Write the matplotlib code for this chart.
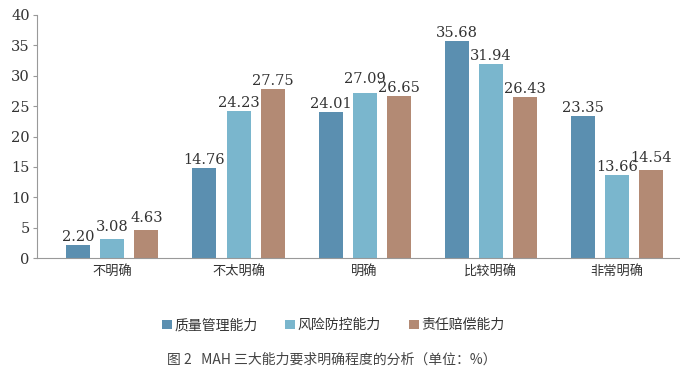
import numpy as np
import matplotlib
matplotlib.use('Agg')
import matplotlib.pyplot as plt

plt.rcParams['font.family'] = ['Noto Sans CJK SC', 'DejaVu Sans']

categories = ['不明确', '不太明确', '明确', '比较明确', '非常明确']
series_names = ['质量管理能力', '风险防控能力', '责任赔偿能力']
quality = [2.20, 14.76, 24.01, 35.68, 23.35]
risk = [3.08, 24.23, 27.09, 31.94, 13.66]
liability = [4.63, 27.75, 26.65, 26.43, 14.54]
colors = ['#5b8fb0', '#7ab6cd', '#b38a74']

fig = plt.figure(figsize=(6.8, 3.73), dpi=100)
ax = fig.add_axes([0.054, 0.308, 0.946, 0.652])

x = np.arange(len(categories))
step = 0.27
width = 0.19
all_vals = [quality, risk, liability]
handles = []
for i, vals in enumerate(all_vals):
    rects = ax.bar(x + (i - 1) * step, vals, width, color=colors[i], label=series_names[i])
    handles.append(rects)

# value labels; when two neighbours are too close, the taller bar's label goes up
gap = 1.5
for j in range(len(categories)):
    ys = [vals[j] + 0.2 for vals in all_vals]
    for i in range(1, len(ys)):
        if abs(ys[i] - ys[i - 1]) < gap:
            if all_vals[i][j] >= all_vals[i - 1][j]:
                ys[i] = ys[i - 1] + gap
            else:
                ys[i - 1] = ys[i] + gap
    for i, vals in enumerate(all_vals):
        ax.text(x[j] + (i - 1) * step, ys[i], '%.2f' % vals[j],
                ha='center', va='bottom', fontsize=10.5, family='DejaVu Serif', color='#333333')

ax.set_xlim(-0.6, 4.5)
ax.set_ylim(0, 40)
ax.set_yticks(range(0, 41, 5))
ax.set_xticks(x)
ax.set_xticklabels(categories, fontsize=9.5, color='#333333')
for lab in ax.get_yticklabels():
    lab.set_family('DejaVu Serif')
    lab.set_fontsize(10.5)
    lab.set_color('#333333')
ax.tick_params(axis='x', length=0, pad=5)
ax.tick_params(axis='y', length=3, color='#999999', pad=2)
ax.spines['top'].set_visible(False)
ax.spines['right'].set_visible(False)
ax.spines['left'].set_color('#999999')
ax.spines['bottom'].set_color('#999999')

fig.legend(handles=handles, loc='center', bbox_to_anchor=(0.49, 0.128), ncol=3, frameon=False,
           fontsize=10, handlelength=0.7, handleheight=0.7, handletextpad=0.2, columnspacing=2.0,
           labelcolor='#333333')

fig.text(0.245, 0.035, '图 2   MAH 三大能力要求明确程度的分析（单位：%）', fontsize=10,
         color='#444444', ha='left', va='center')

plt.savefig('out.png', dpi=100)
